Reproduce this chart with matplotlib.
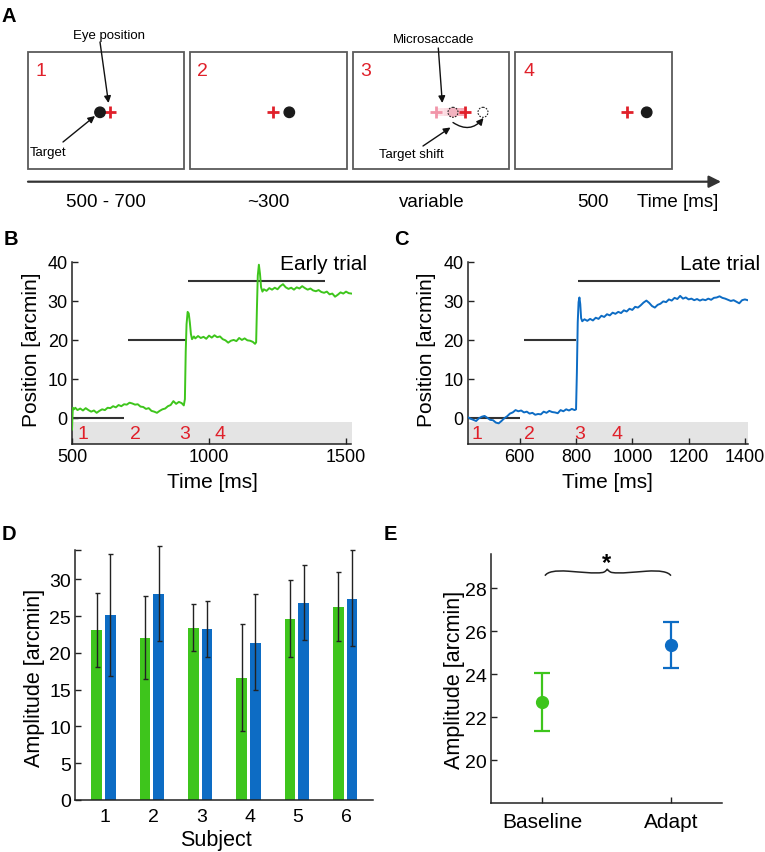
import matplotlib
matplotlib.use('Agg')
import matplotlib.pyplot as plt
from matplotlib.patches import Rectangle, Circle, FancyArrowPatch, PathPatch
from matplotlib.path import Path

plt.rcParams['font.family'] = ['Liberation Sans', 'DejaVu Sans']

W, H = 765, 853
GREEN = '#3ec51c'
BLUE = '#0d6cc4'
RED = '#e0202a'
DARK = '#222222'

# ---------------- data ----------------
# Panel B: early trial eye trace (ms, arcmin)
t_early = [500, 503, 507, 512, 520, 530, 540, 550, 560, 570, 580, 590, 600, 610, 620, 630,
           640, 650, 660, 670, 680, 690, 700, 710, 720, 730, 740, 750, 760, 770, 780, 790,
           800, 810, 820, 830, 840, 850, 860, 870, 880, 890, 900, 908, 912, 915, 918, 922,
           926, 930, 934, 938, 945, 950, 960, 970, 980, 990, 1000, 1010, 1020, 1030, 1040,
           1050, 1060, 1070, 1080, 1090, 1100, 1110, 1120, 1130, 1140, 1150, 1160, 1168,
           1172, 1175, 1178, 1182, 1186, 1190, 1195, 1200, 1210, 1220, 1230, 1240, 1250,
           1260, 1270, 1280, 1290, 1300, 1310, 1320, 1330, 1340, 1350, 1360, 1370, 1380,
           1390, 1400, 1410, 1420, 1430, 1440, 1450, 1460, 1470, 1480, 1490, 1500, 1510, 1520]
pos_early = [-3.0, 2.6, 2.2, 2.6, 2.0, 2.4, 1.9, 2.5, 2.0, 1.6, 1.9, 1.3, 1.8, 2.2, 2.0, 2.6,
             2.5, 3.0, 2.7, 3.3, 3.0, 3.5, 3.4, 3.9, 3.7, 3.4, 3.5, 2.9, 2.8, 2.3, 2.5, 1.8,
             1.6, 1.3, 1.8, 2.2, 2.4, 3.0, 3.3, 4.3, 3.6, 4.1, 3.8, 3.2, 4.8, 17.0, 24.0, 27.2,
             26.8, 24.5, 21.5, 20.2, 20.9, 20.4, 21.0, 20.5, 20.8, 20.3, 21.1, 20.6, 21.2, 20.7, 20.9,
             20.2, 19.9, 19.3, 19.8, 20.0, 19.7, 20.5, 20.0, 20.4, 19.9, 19.8, 19.5, 19.0,
             19.4, 28.5, 36.5, 39.3, 37.0, 33.5, 32.4, 33.0, 32.6, 33.3, 32.9, 33.4, 33.0,
             33.8, 34.3, 33.5, 33.1, 33.4, 32.9, 33.5, 33.2, 33.8, 33.3, 32.9, 33.2, 32.7,
             32.5, 32.8, 32.3, 32.1, 32.4, 31.7, 31.9, 31.1, 31.6, 32.2, 31.9, 32.4, 32.0, 31.9]

# Panel C: late trial eye trace
t_late = [415, 425, 435, 445, 455, 465, 475, 485, 495, 505, 515, 525, 535, 545, 555, 565,
          575, 585, 595, 605, 615, 625, 635, 645, 655, 665, 675, 685, 695, 705, 715, 725,
          735, 745, 755, 765, 775, 785, 795, 800, 803, 806, 809, 812, 815, 818, 822, 830,
          840, 850, 860, 870, 880, 890, 900, 910, 920, 930, 940, 950, 960, 970, 980, 990,
          1000, 1010, 1020, 1030, 1040, 1050, 1060, 1070, 1080, 1090, 1100, 1110, 1120,
          1130, 1140, 1150, 1160, 1170, 1180, 1190, 1200, 1210, 1220, 1230, 1240, 1250,
          1260, 1270, 1280, 1290, 1300, 1310, 1320, 1330, 1340, 1350, 1360, 1370, 1380,
          1390, 1400, 1410]
pos_late = [0.2, -0.2, -0.5, -0.8, -0.1, 0.3, 0.5, 0.0, -0.5, -0.6, -1.2, -1.4, -0.8, -0.1, 0.4, 1.1,
            1.4, 2.0, 1.7, 1.9, 1.4, 1.6, 1.1, 1.3, 0.8, 1.0, 0.9, 1.6, 1.3, 1.8, 1.5, 1.4,
            1.2, 2.0, 1.7, 2.2, 1.9, 2.3, 2.0, 2.2, 11.7, 24.5, 29.7, 30.9, 29.2, 25.6, 24.8, 25.3,
            24.9, 25.4, 25.0, 25.7, 25.4, 26.2, 25.9, 26.6, 26.3, 27.0, 26.7, 27.2, 26.9, 27.6, 27.3, 28.0,
            27.7, 28.5, 28.3, 28.9, 29.6, 30.1, 29.5, 28.7, 28.3, 29.0, 29.3, 29.9, 29.7,
            30.4, 30.1, 30.8, 30.5, 31.3, 30.6, 30.9, 30.4, 30.6, 30.2, 30.5, 30.1, 30.4,
            30.2, 30.6, 30.3, 30.8, 30.9, 31.2, 30.8, 30.6, 30.3, 30.0, 30.2, 29.8, 29.4,
            30.2, 30.4, 30.2]

# target positions (step lines)
tgt_early_start = [500, 703, 922]
tgt_early_end = [690, 918, 1425]
tgt_late_start = [415, 615, 808]
tgt_late_end = [600, 800, 1310]
tgt_pos = [0, 20, 35]

# epoch number labels on time axis
epoch_labels = ['1', '2', '3', '4']
epoch_t_early = [540, 730, 911, 1041]
epoch_t_late = [448, 636, 814, 945]

# Panel D
subjects = [1, 2, 3, 4, 5, 6]
base_mean = [23.1, 22.0, 23.4, 16.6, 24.6, 26.2]
base_hi = [28.2, 27.8, 26.7, 24.0, 29.9, 31.0]
base_lo = [18.1, 16.4, 20.3, 9.4, 19.4, 21.6]
adapt_mean = [25.2, 28.0, 23.2, 21.4, 26.8, 27.4]
adapt_hi = [33.5, 34.6, 27.0, 28.0, 32.0, 34.0]
adapt_lo = [16.9, 21.6, 19.4, 15.0, 21.75, 20.9]

# Panel E
cond_labels = ['Baseline', 'Adapt']
cond_mean = [22.7, 25.35]
cond_lo = [21.38, 24.3]
cond_hi = [24.04, 26.44]

# Panel A timeline labels
phase_labels = ['500 - 700', '~300', 'variable', '500', 'Time [ms]']

# ---------------- figure ----------------
fig = plt.figure(figsize=(W / 100, H / 100), dpi=100)


def axes_px(l, t, r, b):
    return fig.add_axes([l / W, 1 - b / H, (r - l) / W, (b - t) / H])


def style(ax, tick_size):
    for s in ['top', 'right']:
        ax.spines[s].set_visible(False)
    for s in ['left', 'bottom']:
        ax.spines[s].set_linewidth(1.1)
        ax.spines[s].set_color(DARK)
    ax.tick_params(direction='in', length=4, width=1.0, colors=DARK,
                   labelsize=tick_size, pad=3, labelcolor='black')
    ax.tick_params(which='minor', direction='in', length=4, width=1.0, colors=DARK)


# overlay in pixel coordinates (schematic + labels)
ov = fig.add_axes([0, 0, 1, 1])
ov.set_xlim(0, W)
ov.set_ylim(H, 0)
ov.axis('off')
ov.set_zorder(10)

# ---- Panel A ----
boxes = [(28.3, 53.3, 183.7, 170), (190.3, 53.3, 346.7, 170),
         (353, 53.3, 509.3, 170), (515.3, 53.3, 671.7, 170)]
num_x = [35.5, 197.5, 360, 523.5]
for (l, t, r, b), nx, lab in zip(boxes, num_x, epoch_labels):
    ov.add_patch(Rectangle((l, t), r - l, b - t, fill=False, ec='#5a5a5a', lw=1.3))
    ov.text(nx, 76, lab, color=RED, fontsize=14, ha='left', va='baseline')

cy = 113.3


def cross(x, c, alpha=1.0):
    ov.plot([x], [cy], marker='+', ms=8, mew=2.0, color=c, alpha=alpha)


# box 1
ov.add_patch(Circle((100, cy), 5.2, color='#1a1a1a', zorder=3))
cross(110, RED)
# box 2
cross(272.7, RED)
ov.add_patch(Circle((289.3, cy), 5.2, color='#1a1a1a', zorder=3))
# box 3
for i, a in enumerate([0.15, 0.2, 0.25, 0.3, 0.35, 0.45, 0.55, 0.6]):
    ov.add_patch(Rectangle((437 + i * 3.4, cy - 4), 3.5, 8, color='#f07088', alpha=a, lw=0))
cross(436, '#f08aa0', alpha=0.9)
ov.add_patch(Circle((453, cy), 5, fc='#f2b3c0', ec='#222222', ls=(0, (1.5, 1.2)), lw=0.8, zorder=3))
cross(465, RED)
ov.add_patch(Circle((483, cy), 5, fc='white', ec='#222222', ls=(0, (1.5, 1.2)), lw=0.8, zorder=3))
# box 4
cross(626.7, RED)
ov.add_patch(Circle((646.7, cy), 5.2, color='#1a1a1a', zorder=3))


def arrow(p0, p1, cs='arc3,rad=0'):
    ov.add_patch(FancyArrowPatch(p0, p1, arrowstyle='-|>', mutation_scale=10,
                                 lw=1.0, color='#111111', connectionstyle=cs,
                                 shrinkA=0, shrinkB=0))


ov.text(109.5, 39, 'Eye position', fontsize=9.5, ha='center', va='baseline')
arrow((100, 43), (108.5, 104))
ov.text(29.5, 156, 'Target', fontsize=9.5, ha='left', va='baseline')
arrow((63, 143), (95, 117))
ov.text(434, 43, 'Microsaccade', fontsize=9.5, ha='center', va='baseline')
arrow((438.3, 49), (442.3, 104))
ov.text(379, 158, 'Target shift', fontsize=9.5, ha='left', va='baseline')
arrow((423, 147), (450.5, 128.5))
arrow((453, 123.5), (483.5, 119), cs='arc3,rad=0.45')

# timeline
ov.add_patch(FancyArrowPatch((28, 182.7), (721, 182.7), arrowstyle='-|>', mutation_scale=18,
                             lw=1.6, color='#333333', shrinkA=0, shrinkB=0))
for lab, x in zip(phase_labels, [106, 268, 431.7, 593, 677.7]):
    ov.text(x, 207, lab, fontsize=13.5, ha='center', va='baseline')

# panel letters
for lab, x, y in [('A', 1.5, 22), ('B', 4, 245), ('C', 394, 245), ('D', 2, 540), ('E', 384, 540)]:
    ov.text(x, y, lab, fontsize=14.5, fontweight='bold', ha='left', va='baseline')

# ---- Panels B & C ----
def trace_panel(ax, t, y, color, xlim, xticks, tstart, tend, ep_t, title, title_x, ylab_x, xlab_x):
    style(ax, 13)
    ax.set_xlim(*xlim)
    ax.set_ylim(-6.7, 40)
    ax.axhspan(-6.7, -0.95, color='#e4e4e4', lw=0, zorder=0)
    ax.hlines(tgt_pos, tstart, tend, color='#333333', lw=1.5, zorder=2)
    ax.plot(t, y, color=color, lw=1.4, zorder=3)
    for lab, tt in zip(epoch_labels, ep_t):
        ax.text(tt, -5.2, lab, color=RED, fontsize=14, ha='center', va='baseline', zorder=4)
    ax.set_xticks(xticks)
    ax.set_yticks([0, 10, 20, 30, 40])
    ov.text(title_x, 270, title, fontsize=15, ha='right', va='baseline')
    ov.text(ylab_x, 350, 'Position [arcmin]', fontsize=15, rotation=90, ha='center', va='center')
    ov.text(xlab_x, 488, 'Time [ms]', fontsize=15, ha='center', va='baseline')


axB = axes_px(72, 263, 351.5, 445)
trace_panel(axB, t_early, pos_early, GREEN, (500, 1520), [500, 1000, 1500],
            tgt_early_start, tgt_early_end, epoch_t_early, 'Early trial', 367, 32, 212)
axC = axes_px(467.7, 263, 747.7, 445)
trace_panel(axC, t_late, pos_late, BLUE, (415, 1410), [600, 800, 1000, 1200, 1400],
            tgt_late_start, tgt_late_end, epoch_t_late, 'Late trial', 760, 427, 607)

# ---- Panel D ----
axD = axes_px(75, 551, 373, 801)
style(axD, 14)
axD.set_xlim(0.38, 6.55)
axD.set_ylim(0, 34)
xg = [s - 0.17 for s in subjects]
xb = [s + 0.115 for s in subjects]
axD.bar(xg, base_mean, width=0.22, color=GREEN, zorder=2)
axD.bar(xb, adapt_mean, width=0.22, color=BLUE, zorder=2)
for xs, m, lo, hi in [(xg, base_mean, base_lo, base_hi), (xb, adapt_mean, adapt_lo, adapt_hi)]:
    err = [[mm - l for mm, l in zip(m, lo)], [h - mm for mm, h in zip(m, hi)]]
    eb = axD.errorbar(xs, m, yerr=err, fmt='none', ecolor='#222222', elinewidth=1.0,
                      capsize=1.8, capthick=1.0, zorder=3)
    for art in list(eb.lines[1]) + list(eb.lines[2]):
        art.set_clip_on(False)
axD.set_xticks(subjects)
axD.set_yticks([0, 5, 10, 15, 20, 25, 30])
axD.set_yticks([34], minor=True)
axD.tick_params(axis='x', length=0, pad=6)
ov.text(35, 678, 'Amplitude [arcmin]', fontsize=15.5, rotation=90, ha='center', va='center')
ov.text(216, 846.5, 'Subject', fontsize=15.5, ha='center', va='baseline')

# ---- Panel E ----
axE = axes_px(491, 555, 722.3, 804.3)
style(axE, 14)
axE.set_xlim(0.6, 2.4)
axE.set_ylim(18, 29.6)
for i, (m, lo, hi, c) in enumerate(zip(cond_mean, cond_lo, cond_hi, [GREEN, BLUE])):
    axE.errorbar([i + 1], [m], yerr=[[m - lo], [hi - m]], fmt='o', color=c, ms=8.5,
                 elinewidth=1.6, capsize=5.5, capthick=1.6)
axE.set_xticks([1, 2])
axE.set_xticklabels(cond_labels, fontsize=15)
axE.tick_params(axis='x', pad=6)
axE.set_yticks([20, 22, 24, 26, 28])
# significance brace
verts = [(1.02, 28.59), (1.04, 28.78), (1.10, 28.84), (1.20, 28.80),
         (1.30, 28.76), (1.40, 28.68), (1.47, 28.74),
         (1.49, 28.77), (1.50, 28.85), (1.505, 28.90),
         (1.51, 28.85), (1.52, 28.77), (1.54, 28.74),
         (1.61, 28.68), (1.71, 28.76), (1.81, 28.80),
         (1.91, 28.84), (1.98, 28.78), (2.0, 28.59)]
codes = [Path.MOVETO] + [Path.CURVE4] * 18
axE.add_patch(PathPatch(Path(verts, codes), fill=False, lw=1.1, ec='#222222', clip_on=False))
axE.text(1.5, 28.88, '*', fontsize=17, fontweight='bold', ha='center', va='baseline')
ov.text(455, 680, 'Amplitude [arcmin]', fontsize=15.5, rotation=90, ha='center', va='center')

fig.savefig('out.png', dpi=100)
